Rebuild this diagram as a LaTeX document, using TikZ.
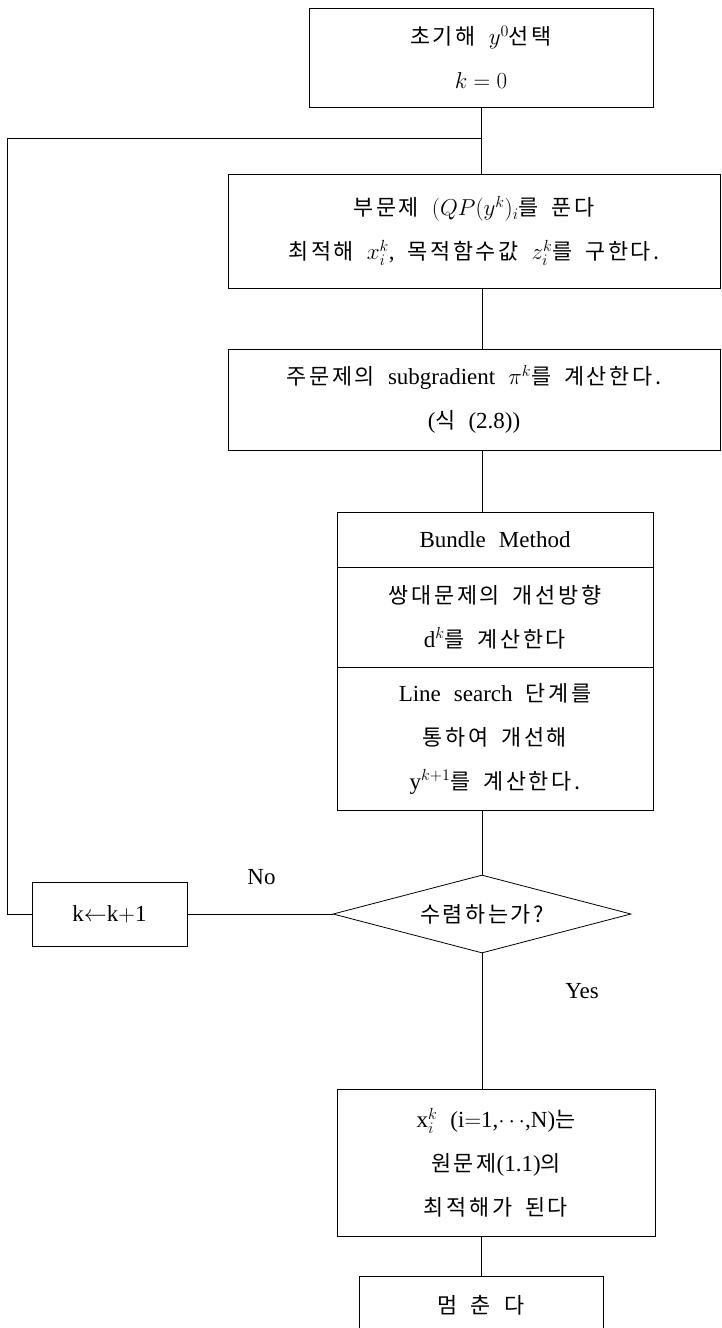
\RequirePackage{fix-cm}
\documentclass[tikz,border=0pt]{standalone}
\usepackage{fontspec}
\setmainfont{Liberation Serif}
\usepackage{tikz}
\usetikzlibrary{positioning,shapes.geometric}
\newfontfamily\krfont[Scale=0.95, LetterSpace=12]{Noto Sans CJK KR}
\newcommand{\ko}[1]{{\krfont #1}}
\newcommand{\boxfont}{\fontsize{23pt}{44pt}\selectfont\spaceskip=13pt plus 2pt}
\tikzset{
  stepbox/.style={draw, line width=0.8pt, minimum width=316pt, minimum height=55pt, align=center, inner sep=0pt},
  decbox/.style={draw, line width=0.8pt, diamond, aspect=3.8, minimum width=298pt, minimum height=78pt, inner sep=0pt},
  flowline/.style={line width=0.8pt},
  yesno/.style={font=\fontsize{23pt}{26pt}\selectfont, inner sep=1pt}
}

\begin{document}
\begin{tikzpicture}[x=1pt, y=-1pt, every node/.style={font=\boxfont}]
  \useasboundingbox (0,0) rectangle (722,1328);
  \clip (0,0) rectangle (722,1328);
  \node[stepbox, minimum width=344pt, minimum height=99pt] (init) at (481,57.5) {\ko{초기해} $y^0$\ko{선택}\\$k = 0$};
  \node[stepbox, minimum width=492pt, minimum height=114pt] (qp) at (474,231) {\ko{부문제} $(QP(y^k)_i$\ko{를 푼다}\\\ko{최적해} $x_i^k$, \ko{목적함수값} $z_i^k$\ko{를 구한다.}};
  \node[stepbox, minimum width=492pt, minimum height=101pt] (sub) at (474,399.5) {\ko{주문제의} subgradient $\pi^k$\ko{를 계산한다.}\\(\ko{식} (2.8))};
  \node[stepbox, minimum height=55pt] (bhead) at (495,539.5) {Bundle Method};
  \node[stepbox, minimum height=100pt] (bdir) at (495,617) {\ko{쌍대문제의 개선방향}\\d$^k$\ko{를 계산한다}};
  \node[stepbox, minimum height=143pt] (bline) at (495,738.5) {Line search \ko{단계를}\\\ko{통하여 개선해}\\y$^{k+1}$\ko{를 계산한다.}};
  \node[decbox] (conv) at (482,914) {\ko{수렴하는가?}};
  \node[stepbox, minimum width=155pt, minimum height=64pt] (kinc) at (109.5,914) {k$\leftarrow$k$+$1};
  \node[stepbox, minimum width=318pt, minimum height=147pt] (final) at (496,1162.5) {x$_i^k$ (i$=$1,$\cdots$,N)\ko{는}\\\ko{원문제}(1.1)\ko{의}\\\ko{최적해가 된다}};
  \node[stepbox, minimum width=244pt, minimum height=58pt] (stop) at (481,1305) {\ko{멈 춘 다}};
  \coordinate (back) at (7,138);
  \draw[flowline] (init.south) -- (init.south |- qp.north);
  \draw[flowline] (qp.south -| conv.north) -- (sub.north -| conv.north);
  \draw[flowline] (sub.south -| conv.north) -- (bhead.north -| conv.north);
  \draw[flowline] (bline.south -| conv.north) -- (conv.north);
  \draw[flowline] (conv.south) -- node[yesno, pos=0.28, right=82pt] {Yes} (final.north -| conv.south);
  \draw[flowline] (final.south -| stop.north) -- (stop.north);
  \draw[flowline] (conv.west) -- node[yesno, pos=0.49, yshift=37pt] {No} (kinc.east);
  \draw[flowline] (kinc.west) -| (back) -- (back -| init.south);
\end{tikzpicture}
\end{document}
